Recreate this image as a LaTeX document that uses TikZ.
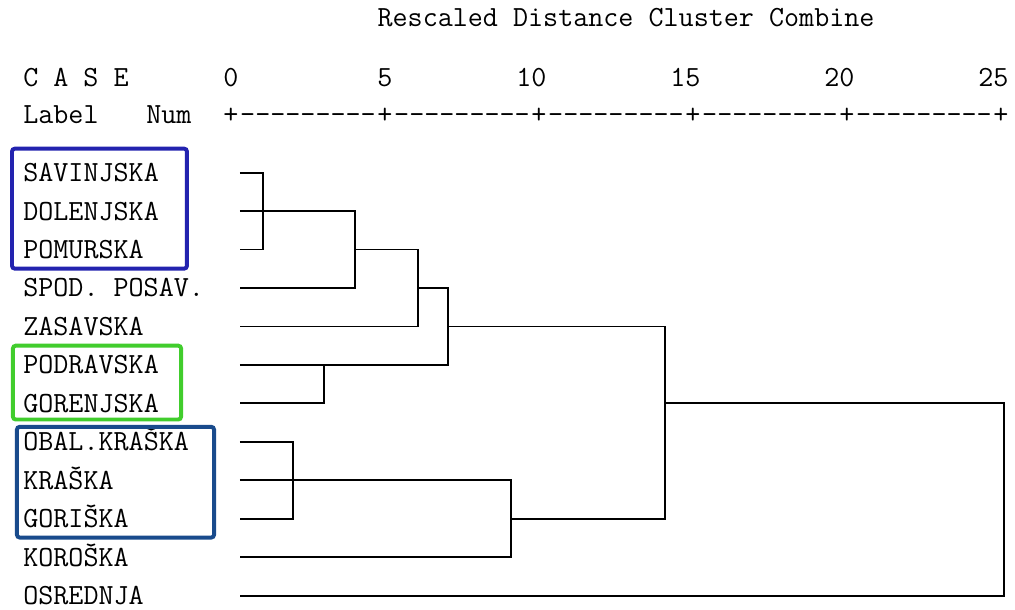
\documentclass[tikz,border=0pt]{standalone}
\usepackage{tikz}

\definecolor{grpblue}{RGB}{35,35,175}
\definecolor{grpgreen}{RGB}{65,205,45}
\definecolor{grpnavy}{RGB}{25,75,140}

\begin{document}
\begin{tikzpicture}[x=0.77cm,y=-0.9613cm,
  txt/.style={font=\ttfamily\fontsize{20.8}{22}\selectfont, inner sep=0pt, text height=12.7pt, text depth=0pt},
  link/.style={line width=1.3pt},
  grp/.style={line width=2.8pt, rounded corners=2pt}]
\useasboundingbox (-7.5,-3.49) rectangle (25.455,12.35);

% header
\node[txt, anchor=west] (title) at (4.75,-3.03) {Rescaled Distance Cluster Combine};
\node[txt, anchor=west] (case) at (-6.753,-1.47) {C A S E};
\node[txt, anchor=west] (label) at (-6.753,-0.508) {Label};
\node[txt, anchor=west] (num) at (-2.76,-0.508) {Num};

\foreach \x in {0,5,...,25} {
\node[txt, anchor=east] (n\x) at (\x+0.25,-1.47) {\x};
\node[txt] (p\x) at (\x,-0.508) {+};
}
\foreach \x in {0,5,...,20} {
\node[txt] (d\x) at (\x+2.5,-0.508) {---------};
}

% cases
\foreach \name [count=\i] in {SAVINJSKA, DOLENJSKA, POMURSKA, SPOD. POSAV., ZASAVSKA, PODRAVSKA, GORENJSKA, OBAL.KRAŠKA, KRAŠKA, GORIŠKA, KOROŠKA, OSREDNJA} {
\node[txt, anchor=west] (l\i) at (-6.753,\i) {\name};
\coordinate (c\i) at (0.29,\i);
}

% joins
\coordinate (j1) at (1.04,2);
\coordinate (j2) at (4.03,3);
\coordinate (j3) at (6.07,4);
\coordinate (j4) at (3.02,6);
\coordinate (j5) at (7.05,5);
\coordinate (j6) at (2.01,9);
\coordinate (j7) at (9.09,10);
\coordinate (j8) at (14.09,7);
\coordinate (root) at (25.1,12);

\draw[link] (c1) -| (j1) |- (c3);
\draw[link] (c2) -- (j1) -| (j2) |- (c4);
\draw[link] (j2) -| (j3) |- (c5);
\draw[link] (j3) -| (j5) |- (j4);
\draw[link] (c6) -- (j4) |- (c7);
\draw[link] (j5) -| (j8) |- (j7);
\draw[link] (c8) -| (j6) |- (c10);
\draw[link] (c9) -- (j6) -| (j7) |- (c11);
\draw[link] (j8) -| (root) -- (c12);

% groups
\draw[grp, grpblue] (-7.11,0.376) rectangle (-1.43,3.497);
\draw[grp, grpgreen] (-7.08,5.50) rectangle (-1.62,7.42);
\draw[grp, grpnavy] (-6.95,7.61) rectangle (-0.55,10.49);

\end{tikzpicture}
\end{document}
